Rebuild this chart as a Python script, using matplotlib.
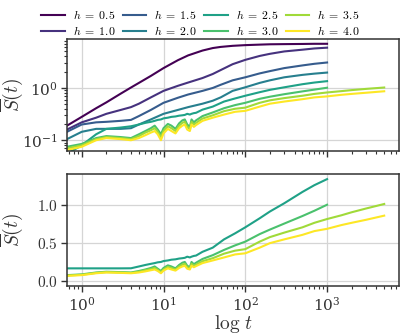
import matplotlib
matplotlib.use("Agg")
import matplotlib.pyplot as plt
import numpy as np
from matplotlib.ticker import FormatStrFormatter, LogLocator, NullFormatter

plt.rcParams['mathtext.fontset'] = 'cm'
plt.rcParams['font.family'] = ['DejaVu Serif']
plt.rcParams['axes.formatter.use_mathtext'] = True

# ---------------- data ----------------
h_labels = ["0.5", "1.0", "1.5", "2.0", "2.5", "3.0", "3.5", "4.0"]

t_smooth = [0.66, 1, 1.5, 2, 3, 4, 5, 7, 10, 15, 20, 30, 40, 50, 70, 100,
            150, 200, 300, 500, 700, 1000]
S_h05 = [0.19, 0.28, 0.41, 0.53, 0.78, 1.02, 1.25, 1.7, 2.4, 3.4, 4.2, 5.2,
         5.8, 6.1, 6.4, 6.6, 6.75, 6.85, 6.9, 6.95, 7.0, 7.0]
S_h10 = [0.16, 0.22, 0.27, 0.32, 0.38, 0.43, 0.5, 0.66, 0.88, 1.1, 1.27, 1.55,
         1.85, 2.2, 2.85, 3.45, 4.1, 4.5, 5.0, 5.4, 5.7, 5.9]
S_h15 = [0.145, 0.2, 0.22, 0.225, 0.235, 0.245, 0.29, 0.38, 0.52, 0.65, 0.75,
         0.88, 1.0, 1.15, 1.4, 1.6, 1.9, 2.1, 2.4, 2.7, 2.9, 3.07]
S_h20 = [0.105, 0.145, 0.165, 0.165, 0.165, 0.17, 0.2, 0.25, 0.32, 0.38, 0.43,
         0.5, 0.57, 0.66, 0.88, 1.03, 1.25, 1.4, 1.6, 1.78, 1.88, 1.97]

t_osc = [0.66, 1, 1.5, 2, 3, 4, 5, 6, 7, 7.8, 8.5, 9.3, 10, 11.3, 12.5, 14,
         15.5, 17, 18.2, 19.5, 21, 22, 23.5, 25, 30, 40, 55, 75, 100, 150, 200,
         300, 500, 700, 1000]
t_osc_long = t_osc + [1500, 2000, 3000, 5000]

S_h25_top = [0.055, 0.08, 0.13, 0.165, 0.175, 0.185, 0.2, 0.215, 0.225, 0.235,
             0.245, 0.25, 0.262, 0.27, 0.28, 0.285, 0.295, 0.3, 0.305, 0.32,
             0.31, 0.32, 0.33, 0.335, 0.385, 0.44, 0.55, 0.63, 0.71, 0.83,
             0.92, 1.03, 1.18, 1.27, 1.35]
S_h25 = [0.165, 0.165, 0.165, 0.165, 0.165, 0.166, 0.19, 0.21, 0.225, 0.235,
         0.245, 0.25, 0.262, 0.27, 0.28, 0.285, 0.295, 0.3, 0.305, 0.32, 0.31,
         0.32, 0.33, 0.335, 0.385, 0.44, 0.55, 0.63, 0.71, 0.83, 0.92, 1.03,
         1.18, 1.27, 1.35]
S_h30 = [0.075, 0.085, 0.11, 0.12, 0.115, 0.11, 0.13, 0.15, 0.17, 0.19, 0.16,
         0.13, 0.17, 0.205, 0.19, 0.165, 0.21, 0.24, 0.25, 0.2, 0.18, 0.25,
         0.22, 0.24, 0.29, 0.34, 0.41, 0.47, 0.52, 0.62, 0.68, 0.76, 0.86,
         0.93, 1.01]
S_h35 = [0.07, 0.08, 0.105, 0.115, 0.11, 0.105, 0.12, 0.14, 0.155, 0.17, 0.145,
         0.115, 0.15, 0.185, 0.17, 0.15, 0.19, 0.215, 0.225, 0.18, 0.165, 0.225,
         0.2, 0.215, 0.26, 0.3, 0.36, 0.4, 0.42, 0.52, 0.58, 0.64, 0.71, 0.77,
         0.82, 0.87, 0.91, 0.96, 1.02]
S_h40 = [0.065, 0.075, 0.1, 0.11, 0.105, 0.1, 0.11, 0.125, 0.14, 0.15, 0.13,
         0.1, 0.135, 0.165, 0.15, 0.135, 0.17, 0.19, 0.2, 0.16, 0.15, 0.2,
         0.18, 0.195, 0.235, 0.27, 0.31, 0.35, 0.365, 0.44, 0.5, 0.55, 0.61,
         0.66, 0.69, 0.74, 0.77, 0.81, 0.865]

# ---------------- figure ----------------
colors = plt.cm.viridis(np.linspace(0, 1, 8))
fig = plt.figure(figsize=(4.11, 3.35), dpi=100)
ax1 = fig.add_axes([0.163, 0.549, 0.808, 0.335])
ax2 = fig.add_axes([0.163, 0.145, 0.808, 0.336], sharex=ax1)

top_series = [(t_smooth, S_h05), (t_smooth, S_h10), (t_smooth, S_h15),
              (t_smooth, S_h20), (t_osc, S_h25_top), (t_osc, S_h30),
              (t_osc_long, S_h35), (t_osc_long, S_h40)]
for i, (tt, ss) in enumerate(top_series):
    ax1.plot(tt, ss, color=colors[i], lw=1.5, label=rf"$h\;=\;{h_labels[i]}$")

bottom_series = [(t_osc, S_h25), (t_osc, S_h30), (t_osc_long, S_h35),
                 (t_osc_long, S_h40)]
for j, (tt, ss) in enumerate(bottom_series):
    ax2.plot(tt, ss, color=colors[4 + j], lw=1.5)

ax1.set_xscale('log')
ax1.set_yscale('log')
ax1.set_xlim(0.66, 7600)
ax1.set_ylim(0.062, 8.7)
ax2.set_ylim(-0.075, 1.42)
ax2.set_yticks([0.0, 0.5, 1.0])
ax2.yaxis.set_major_formatter(FormatStrFormatter(r'$%.1f$'))

spine_c = '#333333'
for ax in (ax1, ax2):
    ax.grid(True, which='major', color='#d5d5d5', lw=0.9)
    ax.set_axisbelow(True)
    for s in ax.spines.values():
        s.set_color(spine_c)
        s.set_linewidth(1.1)
    ax.tick_params(which='major', direction='out', length=4, width=1.0,
                   color=spine_c, labelcolor='#333333', labelsize=11, pad=2.5)
    ax.tick_params(which='minor', direction='out', length=2.5, width=0.8,
                   color=spine_c)
    ax.set_ylabel(r'$\overline{S}(t)$', fontsize=14, color='#333333')

ax1.tick_params(axis='x', which='both', labelbottom=False)
ax1.yaxis.set_minor_locator(LogLocator(base=10, subs=np.arange(2, 10) * 1.0, numticks=20))
ax1.yaxis.set_minor_formatter(NullFormatter())
ax2.set_xlabel(r'$\log\,t$', fontsize=14, color='#333333', labelpad=0)
ax1.yaxis.set_label_coords(-0.125, 0.5)
ax2.yaxis.set_label_coords(-0.125, 0.5)

fig.legend(loc='upper center', bbox_to_anchor=(0.488, 1.005), ncol=4,
           frameon=False, fontsize=8.5, handlelength=2.0, columnspacing=0.6,
           handletextpad=0.7, labelspacing=0.3)

fig.savefig('out.png', dpi=100)
